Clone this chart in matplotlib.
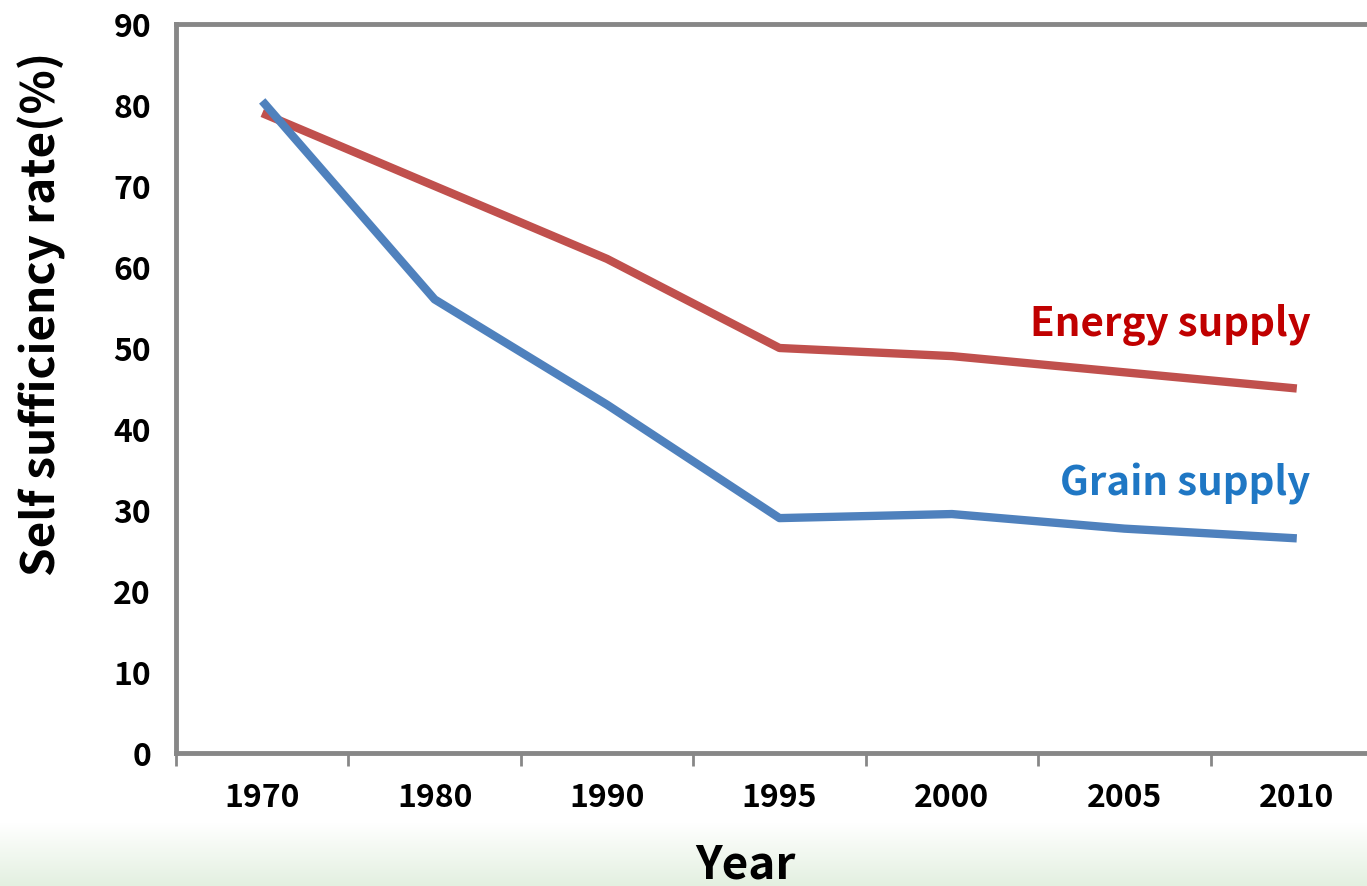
import matplotlib.pyplot as plt
import numpy as np

plt.rcParams['font.family'] = ['Noto Sans CJK KR', 'DejaVu Sans']
plt.rcParams['font.weight'] = 'bold'

years = ["1970", "1980", "1990", "1995", "2000", "2005", "2010"]
grain = [80.5, 56, 43, 29.0, 29.5, 27.7, 26.5]
energy = [79, 70, 61, 50, 49, 47, 45]

fig = plt.figure(figsize=(13.67, 8.87), dpi=100)

# faint green band at the bottom
bg = fig.add_axes([0, 0, 1, 1], zorder=0)
grad = np.linspace(0, 1, 200).reshape(-1, 1)
bg.imshow(grad, aspect='auto', origin='lower',
          cmap=plt.matplotlib.colors.LinearSegmentedColormap.from_list('g', ['#e3f0e0', '#ffffff']),
          extent=[0, 1, 0, 0.07])
bg.set_xlim(0, 1)
bg.set_ylim(0, 1)
bg.axis('off')

ax = fig.add_axes([176 / 1367, 1 - 754 / 887, (1383 - 176) / 1367, (754 - 25) / 887], zorder=1)
ax.patch.set_alpha(0)
x = np.arange(len(years))
ax.plot(x, grain, color='#4f81bd', lw=6, solid_capstyle='butt', zorder=3)
ax.plot(x, energy, color='#c0504d', lw=6, solid_capstyle='butt', zorder=2)

ax.set_xlim(-0.5, len(years) - 0.5)
ax.set_ylim(0, 90)
ax.set_yticks(range(0, 91, 10))
ax.set_xticks(x)
ax.set_xticklabels(years)
ax.set_xticks(np.arange(-0.5, len(years), 1), minor=True)
ax.tick_params(axis='x', which='major', length=0, pad=20, labelsize=23)
ax.tick_params(axis='x', which='minor', length=9, width=2, color='#878787')
ax.tick_params(axis='y', length=0, pad=18, labelsize=23)
for s in ax.spines.values():
    s.set_color('#878787')
    s.set_linewidth(3.5)

ax.text(6.08, 53.0, "Energy supply", color='#c00000', fontsize=29, ha='right', va='center')
ax.text(6.08, 33.3, "Grain supply", color='#1f77c4', fontsize=29, ha='right', va='center')

fig.text(745 / 1367, 1 - 866 / 887, "Year", fontsize=33, ha='center', va='center')
fig.text(42 / 1367, 1 - 314 / 887, "Self sufficiency rate(%)", fontsize=33, rotation=90,
         ha='center', va='center')

fig.savefig('out.png', dpi=100)
